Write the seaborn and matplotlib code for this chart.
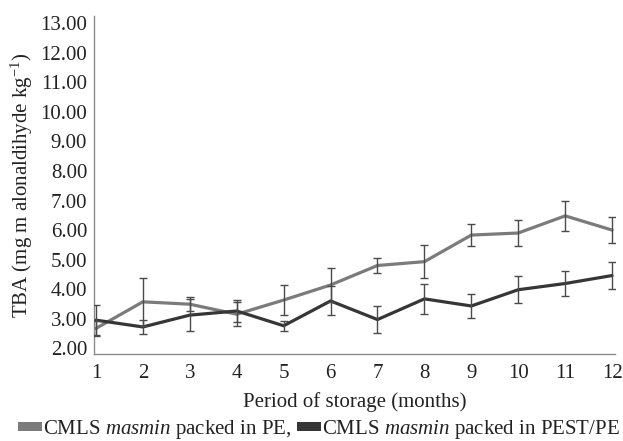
import numpy as np
import pandas as pd
import matplotlib
matplotlib.use("Agg")
import matplotlib.pyplot as plt
import seaborn as sns
from matplotlib.patches import Patch

# TBA over storage time, two packaging types
months = [1, 2, 3, 4, 5, 6, 7, 8, 9, 10, 11, 12]
pe_mean = [2.67, 3.57, 3.49, 3.15, 3.63, 4.14, 4.80, 4.93, 5.83, 5.90, 6.48, 6.00]
pe_err = [0.25, 0.81, 0.24, 0.41, 0.50, 0.59, 0.27, 0.56, 0.38, 0.43, 0.50, 0.45]
pest_mean = [2.95, 2.72, 3.12, 3.26, 2.76, 3.60, 2.97, 3.67, 3.43, 3.98, 4.19, 4.46]
pest_err = [0.50, 0.23, 0.55, 0.37, 0.17, 0.49, 0.46, 0.50, 0.41, 0.46, 0.42, 0.46]
y_ticks = [2, 3, 4, 5, 6, 7, 8, 9, 10, 11, 12, 13]

labels = ["PE", "PEST/PE"]
colors = ["#7b7b7b", "#363636"]

df = pd.DataFrame({
    "month": months * 2,
    "tba": pe_mean + pest_mean,
    "err": pe_err + pest_err,
    "pack": [labels[0]] * len(months) + [labels[1]] * len(months),
})

sns.set_style("white")
plt.rcParams["font.family"] = ["Liberation Serif", "DejaVu Serif"]
plt.rcParams["mathtext.fontset"] = "custom"
plt.rcParams["mathtext.rm"] = "Liberation Serif"
plt.rcParams["mathtext.it"] = "Liberation Serif:italic"

fs = 15

fig = plt.figure(figsize=(6.23, 4.41), dpi=100)
ax = fig.add_axes([0.151, 0.197, 0.836, 0.767])

sns.lineplot(data=df, x="month", y="tba", hue="pack", palette=colors,
             linewidth=2.3, legend=False, ax=ax, zorder=3)
for lab in labels:
    sub = df[df["pack"] == lab]
    ax.errorbar(sub["month"], sub["tba"], yerr=sub["err"], fmt="none",
                ecolor="#4a4a4a", elinewidth=1.0, capsize=3, capthick=1.0, zorder=4)

ax.set_xlim(0.96, 12.06)
ax.set_ylim(1.8, 13.25)
ax.set_xticks(months)
ax.set_yticks(y_ticks)
ax.set_yticklabels([f"{v:.2f}" for v in y_ticks])
ax.tick_params(axis="both", length=0, labelsize=fs, colors="#222222")
ax.tick_params(axis="y", pad=5)
ax.tick_params(axis="x", pad=7)

for side in ["top", "right"]:
    ax.spines[side].set_visible(False)
for side in ["left", "bottom"]:
    ax.spines[side].set_color("#8a8a8a")
    ax.spines[side].set_linewidth(1.0)

ax.set_xlabel("Period of storage (months)", fontsize=fs, color="#222222", labelpad=7)
ax.set_ylabel(r"TBA (mg m alonaldihyde kg$^{\mathregular{-1}}$)", fontsize=fs,
              color="#222222", labelpad=4)

handles = [Patch(facecolor=colors[0], edgecolor="none"),
           Patch(facecolor=colors[1], edgecolor="none")]
leg_labels = [r"CMLS $\it{masmin}$ packed in PE,",
              r"CMLS $\it{masmin}$ packed in PEST/PE"]
fig.legend(handles, leg_labels, loc="center left", bbox_to_anchor=(0.005, 0.026),
           ncol=2, frameon=False, fontsize=fs, handlelength=1.15,
           handleheight=0.25, handletextpad=0.05, columnspacing=0.3,
           borderpad=0.2, labelcolor="#222222")

fig.savefig("out.png", dpi=100)
